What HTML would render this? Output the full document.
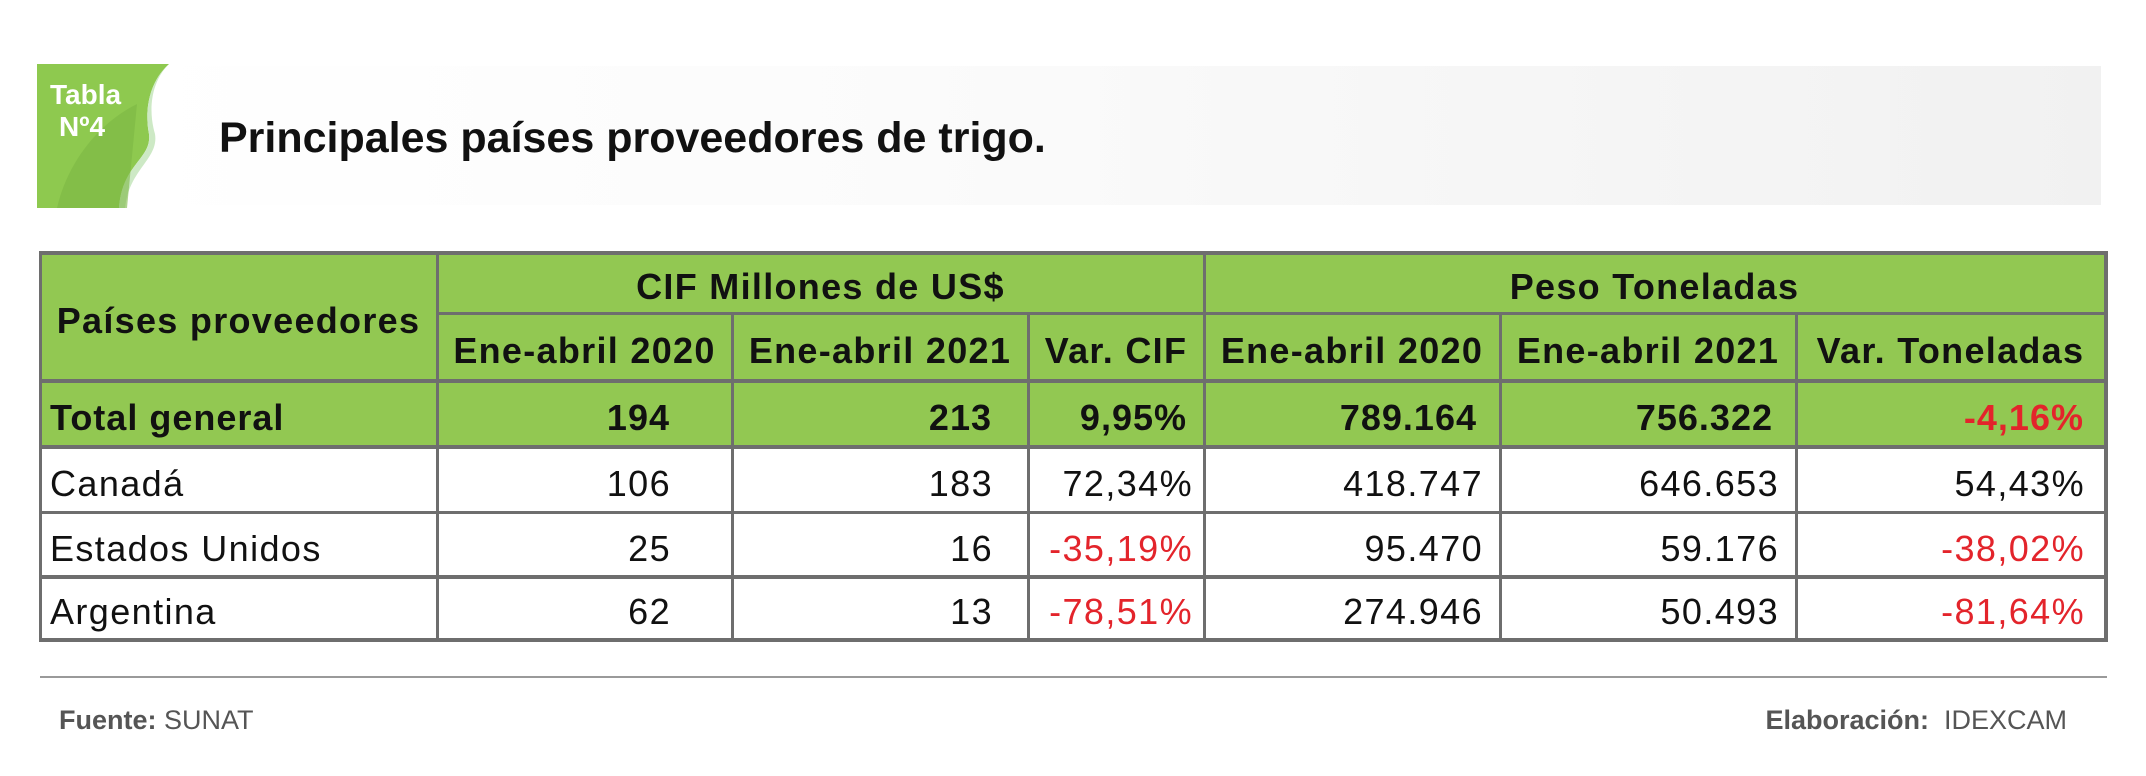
<!DOCTYPE html>
<html><head><meta charset="utf-8"><style>
body{margin:0;width:2146px;height:776px;background:#fff;position:relative;overflow:hidden;font-family:"Liberation Sans",sans-serif;}
.a{position:absolute;}
.c{position:absolute;display:flex;align-items:center;box-sizing:border-box;white-space:nowrap;padding-top:9px;}
.h{font-weight:bold;font-size:36px;letter-spacing:1.3px;justify-content:center;color:#111;}
.d{font-size:36px;letter-spacing:1.4px;color:#111;justify-content:flex-end;}
.b{font-weight:bold;letter-spacing:1px;}
.r{color:#e3242b;}
.hl{position:absolute;background:#6e6e6e;height:3px;}
.vl{position:absolute;background:#6e6e6e;width:3px;}
</style></head><body>
<div class="a" style="left:130px;top:66px;width:1971px;height:139px;background:linear-gradient(90deg,#fff 0%,#fbfbfb 40%,#f1f1f1 100%);"></div>
<svg class="a" style="left:37px;top:64px" width="135" height="144" viewBox="0 0 135 144">
<path d="M0 0 H132 C110 20,108 50,112 70 C115 95,85 100,82 144 H0 Z" fill="#8ec94f"/>
<path d="M132 0 C112 20,112 50,118 70 C122 95,92 105,88 144 H82 C85 100,115 95,112 70 C108 50,110 20,132 0Z" fill="#cde9c5"/>
<path d="M20 144 C30 100,60 60,100 40 L90 144Z" fill="#7cb844" opacity="0.6"/>
<text x="13" y="40" font-family="Liberation Sans" font-weight="bold" font-size="28" fill="#fff">Tabla</text>
<text x="22" y="72" font-family="Liberation Sans" font-weight="bold" font-size="28" fill="#fff">Nº4</text>
</svg>
<div class="a" style="left:219px;top:114px;font-size:43px;font-weight:bold;color:#111;">Principales países proveedores de trigo.</div>

<div class="a" style="left:40px;top:252px;width:2065px;height:194px;background:#92c852;"></div>

<div class="c h" style="left:40px;top:252px;width:397px;height:128px;padding-bottom:0px">Países proveedores</div>
<div class="c h" style="left:437px;top:252px;width:767px;height:61px">CIF Millones de US$</div>
<div class="c h" style="left:1204px;top:252px;width:901px;height:61px">Peso Toneladas</div>
<div class="c h" style="left:437px;top:313px;width:295px;height:67px">Ene-abril 2020</div>
<div class="c h" style="left:732px;top:313px;width:296px;height:67px">Ene-abril 2021</div>
<div class="c h" style="left:1028px;top:313px;width:176px;height:67px">Var. CIF</div>
<div class="c h" style="left:1204px;top:313px;width:296px;height:67px">Ene-abril 2020</div>
<div class="c h" style="left:1500px;top:313px;width:296px;height:67px">Ene-abril 2021</div>
<div class="c h" style="left:1796px;top:313px;width:309px;height:67px">Var. Toneladas</div>

<div class="c d b" style="left:40px;top:380px;width:397px;height:66px;justify-content:flex-start;padding-left:10px">Total general</div>
<div class="c d b" style="left:437px;top:380px;width:295px;height:66px;padding-right:62px">194</div>
<div class="c d b" style="left:732px;top:380px;width:296px;height:66px;padding-right:36px">213</div>
<div class="c d b" style="left:1028px;top:380px;width:176px;height:66px;padding-right:17px">9,95%</div>
<div class="c d b" style="left:1204px;top:380px;width:296px;height:66px;padding-right:23px">789.164</div>
<div class="c d b" style="left:1500px;top:380px;width:296px;height:66px;padding-right:23px">756.322</div>
<div class="c d b r" style="left:1796px;top:380px;width:309px;height:66px;padding-right:21px">-4,16%</div>

<div class="c d" style="left:40px;top:446px;width:397px;height:66px;justify-content:flex-start;padding-left:10px">Canadá</div>
<div class="c d" style="left:437px;top:446px;width:295px;height:66px;padding-right:61px">106</div>
<div class="c d" style="left:732px;top:446px;width:296px;height:66px;padding-right:35px">183</div>
<div class="c d" style="left:1028px;top:446px;width:176px;height:66px;padding-right:11px">72,34%</div>
<div class="c d" style="left:1204px;top:446px;width:296px;height:66px;padding-right:17px">418.747</div>
<div class="c d" style="left:1500px;top:446px;width:296px;height:66px;padding-right:17px">646.653</div>
<div class="c d" style="left:1796px;top:446px;width:309px;height:66px;padding-right:20px">54,43%</div>

<div class="c d" style="left:40px;top:512px;width:397px;height:64px;justify-content:flex-start;padding-left:10px">Estados Unidos</div>
<div class="c d" style="left:437px;top:512px;width:295px;height:64px;padding-right:61px">25</div>
<div class="c d" style="left:732px;top:512px;width:296px;height:64px;padding-right:35px">16</div>
<div class="c d r" style="left:1028px;top:512px;width:176px;height:64px;padding-right:11px">-35,19%</div>
<div class="c d" style="left:1204px;top:512px;width:296px;height:64px;padding-right:17px">95.470</div>
<div class="c d" style="left:1500px;top:512px;width:296px;height:64px;padding-right:17px">59.176</div>
<div class="c d r" style="left:1796px;top:512px;width:309px;height:64px;padding-right:20px">-38,02%</div>

<div class="c d" style="left:40px;top:576px;width:397px;height:63px;justify-content:flex-start;padding-left:10px">Argentina</div>
<div class="c d" style="left:437px;top:576px;width:295px;height:63px;padding-right:61px">62</div>
<div class="c d" style="left:732px;top:576px;width:296px;height:63px;padding-right:35px">13</div>
<div class="c d r" style="left:1028px;top:576px;width:176px;height:63px;padding-right:11px">-78,51%</div>
<div class="c d" style="left:1204px;top:576px;width:296px;height:63px;padding-right:17px">274.946</div>
<div class="c d" style="left:1500px;top:576px;width:296px;height:63px;padding-right:17px">50.493</div>
<div class="c d r" style="left:1796px;top:576px;width:309px;height:63px;padding-right:20px">-81,64%</div>

<div class="hl" style="left:40px;top:251px;width:2068px;height:4px"></div>
<div class="hl" style="left:437px;top:312px;width:1671px"></div>
<div class="hl" style="left:40px;top:379px;width:2068px;height:4px"></div>
<div class="hl" style="left:40px;top:445px;width:2068px;height:4px"></div>
<div class="hl" style="left:40px;top:511px;width:2068px"></div>
<div class="hl" style="left:40px;top:575px;width:2068px;height:4px"></div>
<div class="hl" style="left:40px;top:638px;width:2068px;height:4px"></div>
<div class="vl" style="left:39px;top:251px;height:391px"></div>
<div class="vl" style="left:436px;top:251px;height:391px"></div>
<div class="vl" style="left:731px;top:312px;height:330px"></div>
<div class="vl" style="left:1027px;top:312px;height:330px"></div>
<div class="vl" style="left:1203px;top:251px;height:391px"></div>
<div class="vl" style="left:1499px;top:312px;height:330px"></div>
<div class="vl" style="left:1795px;top:312px;height:330px"></div>
<div class="vl" style="left:2104px;top:251px;height:391px;width:4px"></div>

<div class="a" style="left:40px;top:676px;width:2067px;height:2px;background:#9a9a9a"></div>
<div class="a" style="left:59px;top:705px;font-size:27px;color:#555"><b>Fuente:</b> SUNAT</div>
<div class="a" style="left:1700px;top:705px;width:367px;text-align:right;font-size:27px;color:#555"><b>Elaboración:</b>&nbsp; IDEXCAM</div>
</body></html>
